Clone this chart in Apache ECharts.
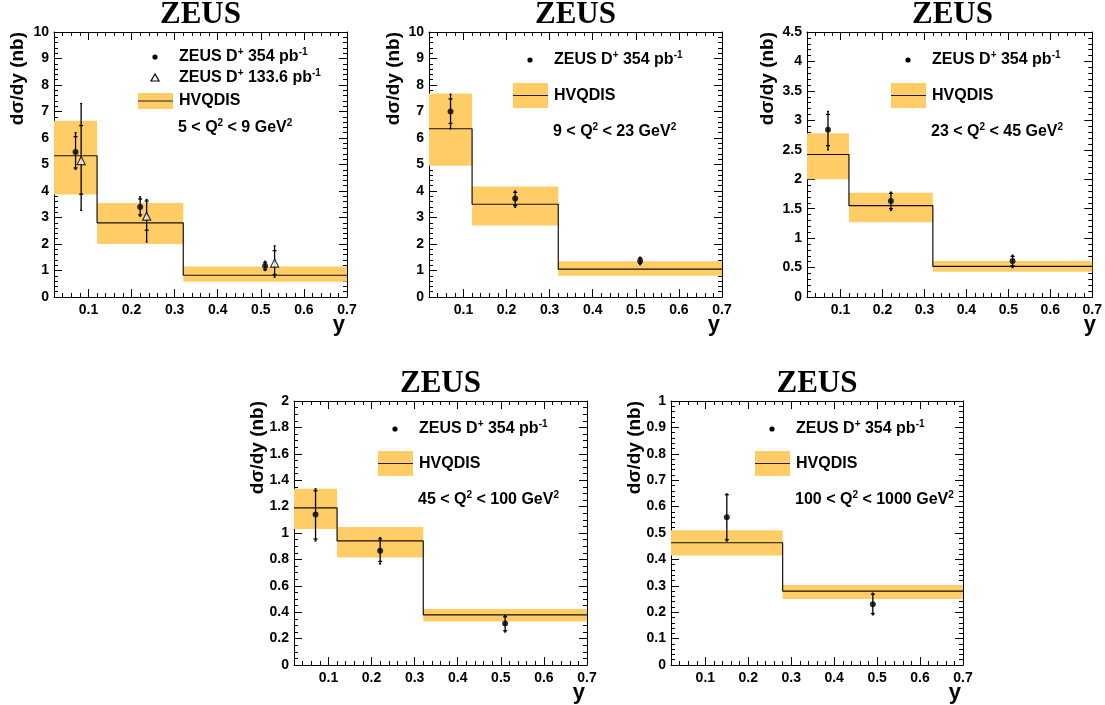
<!DOCTYPE html>
<html>
<head>
<meta charset="utf-8">
<script src="https://cdn.jsdelivr.net/npm/echarts@6/dist/echarts.min.js"></script>
<style>
  html, body { margin: 0; padding: 0; background: #fff; }
  #chart { width: 1105px; height: 705px; }
</style>
</head>
<body>
<div id="chart"></div>
<script>
// HVQDIS bin edges (y)
const edgesA = [0.02, 0.12, 0.32, 0.7]
const edgesB = [0.02, 0.28, 0.7]

// HVQDIS predictions: central, band low, band high
const hvq1 = [5.33, 2.8, 0.82]
const hvq1Lo = [3.87, 2.0, 0.58]
const hvq1Hi = [6.65, 3.55, 1.15]
const hvq2 = [6.35, 3.5, 1.05]
const hvq2Lo = [4.95, 2.7, 0.8]
const hvq2Hi = [7.68, 4.17, 1.35]
const hvq3 = [2.42, 1.55, 0.52]
const hvq3Lo = [2.0, 1.27, 0.43]
const hvq3Hi = [2.78, 1.77, 0.61]
const hvq4 = [1.19, 0.94, 0.38]
const hvq4Lo = [1.03, 0.815, 0.33]
const hvq4Hi = [1.335, 1.045, 0.425]
const hvq5 = [0.463, 0.28]
const hvq5Lo = [0.415, 0.25]
const hvq5Hi = [0.51, 0.303]

// ZEUS D+ 354 pb-1 : y positions, values, stat range, total range
const ptsX = [0.07, 0.22, 0.51]
const ptsX5 = [0.15, 0.49]
const zeus1 = [5.47, 3.40, 1.17]
const zeus1Stat = [[4.87, 6.05], [3.1, 3.7], [1.03, 1.3]]
const zeus1Tot = [[4.82, 6.2], [3.05, 3.78], [1.0, 1.35]]
const zeus2 = [7.0, 3.72, 1.37]
const zeus2Stat = [[6.55, 7.47], [3.45, 3.95], [1.27, 1.47]]
const zeus2Tot = [[6.35, 7.65], [3.38, 4.0], [1.22, 1.5]]
const zeus3 = [2.84, 1.63, 0.61]
const zeus3Stat = [[2.57, 3.1], [1.5, 1.76], [0.53, 0.69]]
const zeus3Tot = [[2.5, 3.15], [1.47, 1.78], [0.5, 0.71]]
const zeus4 = [1.14, 0.865, 0.315]
const zeus4Stat = [[0.955, 1.32], [0.785, 0.955], [0.26, 0.365]]
const zeus4Tot = [[0.94, 1.335], [0.765, 0.965], [0.25, 0.375]]
const zeus5 = [0.56, 0.23]
const zeus5Stat = [[0.475, 0.645], [0.195, 0.268]]
const zeus5Tot = [[0.47, 0.648], [0.19, 0.272]]

// ZEUS D+ 133.6 pb-1 (only first Q2 bin)
const oldX = [0.083, 0.235, 0.532]
const old1 = [5.15, 3.05, 1.28]
const old1Stat = [[3.88, 6.47], [2.52, 3.62], [0.85, 1.75]]
const old1Tot = [[3.27, 7.3], [2.08, 3.68], [0.75, 1.93]]

// y axis ticks per panel
const yMax = [10, 10, 4.5, 2, 1]
const yStep = [1, 1, 0.5, 0.2, 0.1]
const yMinor = [5, 5, 5, 4, 5]

const q2Labels = [
  '5 < Q{s|2} < 9 GeV{s|2}',
  '9 < Q{s|2} < 23 GeV{s|2}',
  '23 < Q{s|2} < 45 GeV{s|2}',
  '45 < Q{s|2} < 100 GeV{s|2}',
  '100 < Q{s|2} < 1000 GeV{s|2}'
]

const panels = [
  { edges: edgesA, hvq: hvq1, lo: hvq1Lo, hi: hvq1Hi, x: ptsX, v: zeus1, stat: zeus1Stat, tot: zeus1Tot, old: true },
  { edges: edgesA, hvq: hvq2, lo: hvq2Lo, hi: hvq2Hi, x: ptsX, v: zeus2, stat: zeus2Stat, tot: zeus2Tot },
  { edges: edgesA, hvq: hvq3, lo: hvq3Lo, hi: hvq3Hi, x: ptsX, v: zeus3, stat: zeus3Stat, tot: zeus3Tot },
  { edges: edgesA, hvq: hvq4, lo: hvq4Lo, hi: hvq4Hi, x: ptsX, v: zeus4, stat: zeus4Stat, tot: zeus4Tot },
  { edges: edgesB, hvq: hvq5, lo: hvq5Lo, hi: hvq5Hi, x: ptsX5, v: zeus5, stat: zeus5Stat, tot: zeus5Tot }
]

const grids = [
  { left: 54, top: 32, width: 293, height: 265 },
  { left: 429, top: 32, width: 293, height: 265 },
  { left: 807, top: 32, width: 291, height: 265 },
  { left: 294, top: 401, width: 293, height: 264 },
  { left: 671, top: 401, width: 292, height: 264 }
]
const yNameOffset = [36, 35, 39, 36, 36]

const BAND = '#ffcc66'
const SANS = '"Liberation Sans", Arial, Helvetica, sans-serif'
const SERIF = '"Liberation Serif", "Times New Roman", serif'
const supRich = {
  s: { fontSize: 10, fontWeight: 'bold', fontFamily: SANS, verticalAlign: 'top', lineHeight: 10, fill: '#000' }
}

const chart = echarts.init(document.getElementById('chart'))

const xAxes = []
const yAxes = []
const series = []
const graphics = []

function xAxisOf(gi, pos, minor) {
  return {
    type: 'value',
    gridIndex: gi,
    position: pos,
    min: 0.02,
    max: 0.7,
    interval: minor ? 0.02 : undefined,
    splitNumber: 7,
    axisLine: { show: !minor, onZero: false, lineStyle: { color: '#000', width: 1 } },
    axisTick: { show: true, inside: true, length: minor ? 4 : 8, lineStyle: { color: '#000', width: 1 } },
    axisLabel: {
      show: pos === 'bottom' && !minor,
      showMinLabel: false,
      margin: 6,
      color: '#000',
      fontSize: 14,
      fontWeight: 'bold',
      fontFamily: SANS
    },
    splitLine: { show: false }
  }
}

function yAxisOf(gi, pi, pos) {
  return {
    type: 'value',
    gridIndex: gi,
    position: pos,
    min: 0,
    max: yMax[pi],
    interval: yStep[pi],
    axisLine: { show: true, onZero: false, lineStyle: { color: '#000', width: 1 } },
    axisTick: { show: true, inside: true, length: 8, lineStyle: { color: '#000', width: 1 } },
    minorTick: { show: true, splitNumber: yMinor[pi], length: 4, lineStyle: { color: '#000', width: 1 } },
    axisLabel: {
      show: pos === 'left',
      margin: 5,
      color: '#000',
      fontSize: 14,
      fontWeight: 'bold',
      fontFamily: SANS
    },
    splitLine: { show: false }
  }
}

function errRender(params, api) {
  const x = api.value(0)
  const s1 = api.coord([x, api.value(2)])
  const s2 = api.coord([x, api.value(3)])
  const t1 = api.coord([x, api.value(4)])
  const t2 = api.coord([x, api.value(5)])
  const st = { stroke: '#000', lineWidth: 1.3 }
  const cap = 2
  return {
    type: 'group',
    children: [
      { type: 'line', shape: { x1: t1[0], y1: t1[1], x2: t2[0], y2: t2[1] }, style: st },
      { type: 'line', shape: { x1: s1[0] - cap, y1: s1[1], x2: s1[0] + cap, y2: s1[1] }, style: st },
      { type: 'line', shape: { x1: s2[0] - cap, y1: s2[1], x2: s2[0] + cap, y2: s2[1] }, style: st },
      { type: 'line', shape: { x1: t1[0] - 1, y1: t1[1], x2: t1[0] + 1, y2: t1[1] }, style: st },
      { type: 'line', shape: { x1: t2[0] - 1, y1: t2[1], x2: t2[0] + 1, y2: t2[1] }, style: st }
    ]
  }
}

function bandRender(params, api) {
  const a = api.coord([api.value(0), api.value(3)])
  const b = api.coord([api.value(1), api.value(2)])
  return {
    type: 'rect',
    shape: { x: a[0], y: a[1], width: b[0] - a[0], height: b[1] - a[1] },
    style: { fill: BAND }
  }
}

panels.forEach((p, i) => {
  const g = grids[i]
  const xi = xAxes.length
  xAxes.push(xAxisOf(i, 'bottom', false))
  xAxes.push(xAxisOf(i, 'bottom', true))
  xAxes.push(xAxisOf(i, 'top', false))
  xAxes.push(xAxisOf(i, 'top', true))
  const yi = yAxes.length
  yAxes.push(yAxisOf(i, i, 'left'))
  yAxes.push(yAxisOf(i, i, 'right'))

  // HVQDIS band
  const bandData = p.hvq.map((c, k) => [p.edges[k], p.edges[k + 1], p.lo[k], p.hi[k]])
  series.push({
    type: 'custom', name: 'HVQDIS band', xAxisIndex: xi, yAxisIndex: yi,
    renderItem: bandRender, data: bandData, clip: true, z: 1,
    encode: { x: [0, 1], y: [2, 3] }
  })
  // HVQDIS central step
  const stepData = p.hvq.map((c, k) => [p.edges[k], c])
  stepData.push([p.edges[p.edges.length - 1], p.hvq[p.hvq.length - 1]])
  series.push({
    type: 'line', name: 'HVQDIS', xAxisIndex: xi, yAxisIndex: yi,
    step: 'end', data: stepData, showSymbol: false, symbol: 'none',
    lineStyle: { color: '#111', width: 1.2 }, z: 2, animation: false
  })
  // 133.6 pb-1 triangles
  if (p.old) {
    const oe = oldX.map((x, k) => [x, old1[k], old1Stat[k][0], old1Stat[k][1], old1Tot[k][0], old1Tot[k][1]])
    series.push({
      type: 'custom', name: 'ZEUS old err', xAxisIndex: xi, yAxisIndex: yi,
      renderItem: errRender, data: oe, z: 3, encode: { x: 0, y: [1, 4, 5] }
    })
    series.push({
      type: 'scatter', name: 'ZEUS old', xAxisIndex: xi, yAxisIndex: yi,
      data: oldX.map((x, k) => [x, old1[k]]), symbol: 'triangle', symbolSize: 8,
      itemStyle: { color: '#fff', borderColor: '#000', borderWidth: 1.2 }, z: 4
    })
  }
  // 354 pb-1 points
  const ne = p.x.map((x, k) => [x, p.v[k], p.stat[k][0], p.stat[k][1], p.tot[k][0], p.tot[k][1]])
  series.push({
    type: 'custom', name: 'ZEUS err', xAxisIndex: xi, yAxisIndex: yi,
    renderItem: errRender, data: ne, z: 3, encode: { x: 0, y: [1, 4, 5] }
  })
  series.push({
    type: 'scatter', name: 'ZEUS', xAxisIndex: xi, yAxisIndex: yi,
    data: p.x.map((x, k) => [x, p.v[k]]), symbol: 'circle', symbolSize: 6,
    itemStyle: { color: '#000' }, z: 4
  })

  // title
  graphics.push({
    type: 'text', x: g.left + g.width / 2, y: g.top - 17,
    style: { text: 'ZEUS', font: 'bold 31px ' + SERIF, fill: '#000', align: 'center', verticalAlign: 'middle' }
  })
  // y axis name
  graphics.push({
    type: 'text', x: g.left - yNameOffset[i], y: g.top, rotation: Math.PI / 2,
    style: { text: 'd\u03c3/dy (nb)', font: 'bold 19px ' + SANS, fill: '#000', align: 'right', verticalAlign: 'middle' }
  })
  // x axis name
  graphics.push({
    type: 'text', x: g.left + g.width - 2, y: g.top + g.height + 28,
    style: { text: 'y', font: 'bold 22px ' + SANS, fill: '#000', align: 'right', verticalAlign: 'middle' }
  })

  // legend
  const lx = g.left
  const ly = g.top
  const legText = (txt, dy) => ({
    type: 'text', x: lx + 125, y: ly + dy,
    style: {
      text: txt, fontSize: 16, fontWeight: 'bold', fontFamily: SANS, fill: '#000',
      lineHeight: 19, verticalAlign: 'middle', align: 'left', rich: supRich
    }
  })
  const r1 = p.old ? 25 : 28
  graphics.push({ type: 'circle', shape: { cx: lx + 101, cy: ly + r1, r: 2.6 }, style: { fill: '#000' } })
  graphics.push(legText('ZEUS D{s|+} 354 pb{s|-1}', r1))
  let bandTop, bandBot, annY
  if (p.old) {
    const r2 = 46
    graphics.push({
      type: 'polygon',
      shape: { points: [[lx + 101, ly + r2 - 4], [lx + 97, ly + r2 + 3], [lx + 105, ly + r2 + 3]] },
      style: { fill: '#fff', stroke: '#000', lineWidth: 1.2 }
    })
    graphics.push(legText('ZEUS D{s|+} 133.6 pb{s|-1}', r2))
    bandTop = 61; bandBot = 77; annY = 96
  } else {
    bandTop = i >= 3 ? 50 : 51; bandBot = i >= 3 ? 75 : 76; annY = i >= 3 ? 99 : 100
  }
  const bandMid = (bandTop + bandBot) / 2
  graphics.push({
    type: 'rect', shape: { x: lx + 84, y: ly + bandTop, width: 35, height: bandBot - bandTop },
    style: { fill: BAND }
  })
  graphics.push({
    type: 'line', shape: { x1: lx + 84, y1: ly + bandMid, x2: lx + 119, y2: ly + bandMid },
    style: { stroke: '#222', lineWidth: 1.2 }
  })
  graphics.push(legText('HVQDIS', bandMid))
  graphics.push({
    type: 'text', x: lx + 124, y: ly + annY,
    style: {
      text: q2Labels[i], fontSize: 16, fontWeight: 'bold', fontFamily: SANS, fill: '#000',
      lineHeight: 19, verticalAlign: 'middle', align: 'left', rich: supRich
    }
  })
})

const option = {
  animation: false,
  backgroundColor: '#fff',
  grid: grids.map(g => Object.assign({ containLabel: false }, g)),
  xAxis: xAxes,
  yAxis: yAxes,
  series: series,
  graphic: { elements: graphics }
}

chart.setOption(option)
</script>
</body>
</html>
